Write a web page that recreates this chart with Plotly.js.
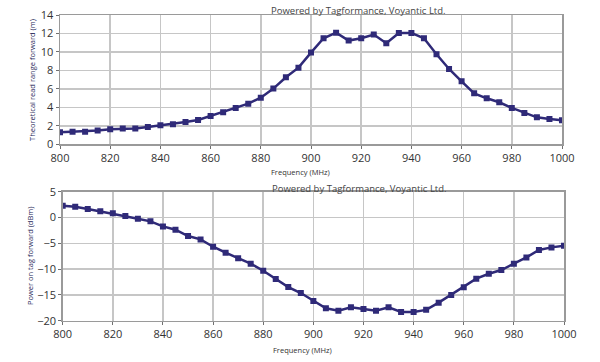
<!DOCTYPE html>
<html><head><meta charset="utf-8">
<script src="https://cdn.plot.ly/plotly-3.0.1.min.js"></script>
<style>html,body{margin:0;padding:0;background:#fff}#c{width:600px;height:362px}</style>
</head><body><div id="c"></div>
<script>
const freq = [800,805,810,815,820,825,830,835,840,845,850,855,860,865,870,875,880,885,890,895,900,905,910,915,920,925,930,935,940,945,950,955,960,965,970,975,980,985,990,995,1000];
const readRange = [1.3,1.37,1.37,1.5,1.62,1.7,1.7,1.88,2.06,2.17,2.42,2.64,3.07,3.47,3.94,4.4,5.05,6.03,7.26,8.3,9.93,11.48,12.09,11.23,11.48,11.88,10.94,12.06,12.06,11.48,9.75,8.16,6.82,5.52,4.98,4.55,3.94,3.39,2.92,2.74,2.6];
const powerOnTag = [2.29,2.1,1.64,1.19,0.8,0.28,-0.23,-0.75,-1.72,-2.36,-3.59,-4.24,-5.66,-6.82,-7.92,-8.95,-10.31,-11.92,-13.48,-14.64,-16.19,-17.6,-18.06,-17.4,-17.74,-18.06,-17.4,-18.3,-18.3,-17.9,-16.5,-15.0,-13.5,-11.86,-10.9,-10.18,-8.95,-7.73,-6.3,-5.79,-5.46];
const xTicks = [800,820,840,860,880,900,920,940,960,980,1000];
const topYTicks = [0,2,4,6,8,10,12,14];
const botYTicks = [-20,-15,-10,-5,0,5];
const xTitle = 'Frequency (MHz)';
const topYTitle = 'Theoretical read range forward (m)';
const botYTitle = 'Power on tag forward (dBm)';
const credit = 'Powered by Tagformance, Voyantic Ltd.';

const lineColor = '#2f2a78';
const W = 600, H = 362;
const fx = p => p / W, fy = p => 1 - p / H;

const common = {
  showgrid: true, gridcolor: '#c6c6c6', gridwidth: 1.5,
  showline: true, linecolor: '#9a9a9a', linewidth: 1.5, mirror: true,
  ticks: 'outside', ticklen: 3, tickcolor: '#707070', tickwidth: 1,
  zeroline: false,
  tickfont: {family: 'Open Sans, DejaVu Sans, sans-serif', size: 11, color: '#333'}
};

const trace = (y, xa, ya) => ({
  x: freq, y: y, xaxis: xa, yaxis: ya, type: 'scatter', mode: 'lines+markers',
  line: {color: lineColor, width: 2.5},
  marker: {symbol: 'square', size: 6, color: lineColor},
  showlegend: false, hoverinfo: 'skip'
});

const annFont = (s, c) => ({family: 'Open Sans, DejaVu Sans, sans-serif', size: s, color: c});
const ann = (text, px, py, size, color, angle) => ({
  text: text, xref: 'paper', yref: 'paper', x: fx(px), y: fy(py),
  xanchor: 'center', yanchor: 'middle', textangle: angle || 0,
  showarrow: false, font: annFont(size, color)
});

const layout = {
  width: W, height: H, margin: {l: 0, r: 0, t: 0, b: 0},
  paper_bgcolor: '#fff', plot_bgcolor: '#fff', showlegend: false,
  xaxis: Object.assign({}, common, {domain: [fx(60), fx(562)], range: [800, 1000], tickvals: xTicks, anchor: 'y'}),
  yaxis: Object.assign({}, common, {domain: [fy(144.3), fy(15)], range: [0, 14], tickvals: topYTicks, anchor: 'x'}),
  xaxis2: Object.assign({}, common, {domain: [fx(62.7), fx(564)], range: [800, 1000], tickvals: xTicks, anchor: 'y2'}),
  yaxis2: Object.assign({}, common, {domain: [fy(320.7), fy(191.7)], range: [-20, 5], tickvals: botYTicks, anchor: 'x2'}),
  annotations: [
    ann(xTitle, 300, 172, 7.5, '#333'),
    ann(xTitle, 302, 350, 7.5, '#333'),
    ann(credit, 358, 10, 9.5, '#444'),
    ann(credit, 359, 188, 9.5, '#444'),
    ann(topYTitle, 32, 80, 7.5, '#2a2a5a', -90),
    ann(botYTitle, 30, 256, 7.5, '#2a2a5a', -90)
  ]
};

Plotly.newPlot('c', [trace(readRange, 'x', 'y'), trace(powerOnTag, 'x2', 'y2')], layout, {staticPlot: true, displayModeBar: false});
</script></body></html>
